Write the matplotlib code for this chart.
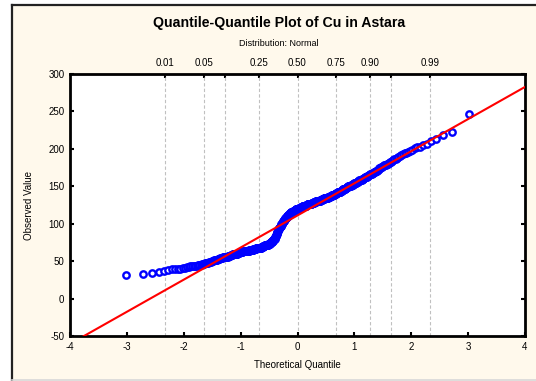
from statistics import NormalDist
import numpy as np
import matplotlib
matplotlib.use("Agg")
import matplotlib.pyplot as plt
from matplotlib.patches import Rectangle
from matplotlib.lines import Line2D

plt.rcParams['font.family'] = ['Liberation Sans', 'DejaVu Sans']
plt.rcParams['axes.unicode_minus'] = False

# Cu concentrations (frequency table: value -> number of samples)
cu_values = [31, 33, 34, 36, 37, 38, 39, 40, 41, 42, 43, 44, 45, 46, 47, 48, 49, 50, 51, 52,
             53, 54, 55, 56, 57, 58, 59, 60, 61, 62, 63, 64, 65, 66, 67, 68, 69, 70, 71, 72,
             73, 74, 75, 76, 77, 78, 79, 80, 81, 82, 83, 84, 85, 86, 87, 88, 89, 90, 91, 92,
             93, 94, 95, 96, 97, 98, 99, 100, 101, 102, 103, 104, 105, 106, 107, 108, 109, 110, 111, 112,
             113, 114, 115, 116, 117, 118, 119, 120, 121, 122, 123, 124, 125, 126, 127, 128, 129, 130, 131, 132,
             133, 134, 135, 136, 137, 138, 139, 140, 141, 142, 143, 144, 145, 146, 147, 148, 149, 150, 151, 152,
             153, 154, 155, 156, 157, 158, 159, 160, 161, 162, 163, 164, 165, 166, 167, 168, 169, 170, 171, 172,
             173, 174, 175, 176, 177, 178, 179, 180, 181, 182, 183, 184, 185, 186, 187, 188, 189, 190,
             192, 193, 194, 195, 196, 197, 199, 201, 202, 203, 205, 207, 210, 213, 218, 223, 247]
cu_counts = [1, 1, 1, 1, 1, 1, 2, 2, 2, 2, 2, 3, 3, 3, 2, 2, 3, 2, 3, 2,
             3, 4, 4, 4, 4, 4, 4, 5, 4, 7, 7, 8, 10, 7, 7, 7, 5, 5, 5, 5,
             5, 3, 3, 2, 2, 2, 2, 2, 1, 1, 1, 1, 1, 1, 1, 1, 1, 1, 1, 1,
             1, 2, 1, 2, 2, 1, 1, 2, 1, 2, 1, 2, 2, 2, 2, 2, 2, 3, 2, 3,
             2, 3, 2, 6, 5, 5, 5, 5, 6, 6, 6, 6, 5, 7, 7, 7, 7, 7, 7, 6,
             6, 6, 6, 6, 5, 4, 4, 4, 4, 4, 4, 3, 3, 3, 3, 3, 3, 4, 3, 4,
             3, 3, 2, 3, 2, 3, 2, 3, 2, 2, 2, 2, 2, 2, 2, 2, 2, 2, 1, 1,
             1, 1, 1, 2, 1, 2, 1, 2, 1, 1, 1, 1, 1, 1, 1, 1, 1, 1,
             1, 1, 1, 1, 1, 1, 1, 1, 1, 1, 1, 1, 1, 1, 1, 1, 1]

prob_levels = [0.01, 0.05, 0.10, 0.25, 0.50, 0.75, 0.90, 0.95, 0.99]
prob_labels = ['0.01', '0.05', '', '0.25', '0.50', '0.75', '0.90', '', '0.99']

observed = np.repeat(cu_values, cu_counts).astype(float)
n = len(observed)
nd = NormalDist()
theor = np.array([nd.inv_cdf((i - 0.375) / (n + 0.25)) for i in range(1, n + 1)])
slope, intercept = np.polyfit(theor, observed, 1)

fig = plt.figure(figsize=(5.36, 3.81), dpi=100)
fig.patch.set_facecolor('white')
# sunken panel frame
fig.add_artist(Rectangle((12 / 536, 0), 1, 375 / 381, transform=fig.transFigure,
                         facecolor='#fff9ec', edgecolor='none', zorder=-10))
fig.add_artist(Line2D([11.5 / 536, 11.5 / 536], [0.2 / 381, 376 / 381], transform=fig.transFigure,
                      color='#222222', lw=1.6, zorder=-9))
fig.add_artist(Line2D([11.5 / 536, 1], [376 / 381, 376 / 381], transform=fig.transFigure,
                      color='#222222', lw=1.6, zorder=-9))
fig.add_artist(Line2D([12 / 536, 1], [1.2 / 381, 1.2 / 381], transform=fig.transFigure,
                      color='#d8d8d8', lw=1.2, zorder=-9))

ax = fig.add_axes([70 / 536, 45 / 381, 455 / 536, 262 / 381])
ax.set_facecolor('white')

qx = [nd.inv_cdf(p) for p in prob_levels]
for q in qx:
    ax.axvline(q, color='#c0c0c0', lw=0.8, ls=(0, (3, 2)), zorder=1)

ax.plot(theor, observed, 'o', ms=4.6, mfc='white', mec='#0000ff', mew=1.7, zorder=3)
xl = np.array([-4, 4])
ax.plot(xl, intercept + slope * xl, color='#ff0000', lw=1.5, zorder=4)

ax.set_xlim(-4, 4)
ax.set_ylim(-50, 300)
ax.set_xticks(range(-4, 5))
ax.set_yticks(range(-50, 301, 50))
ax.tick_params(direction='in', length=3, width=1.5, labelsize=7, top=False, right=True, pad=4)
for s in ax.spines.values():
    s.set_linewidth(2)

top = ax.secondary_xaxis('top')
top.set_xticks(qx)
top.set_xticklabels(prob_labels)
top.tick_params(direction='in', length=3, width=1.5, labelsize=7, pad=4)

ax.set_xlabel('Theoretical Quantile', fontsize=7, labelpad=6)
ax.set_ylabel('Observed Value', fontsize=7, labelpad=10)

fig.text(279 / 536, 1 - 23 / 381, 'Quantile-Quantile Plot of Cu in Astara', ha='center', va='center',
         fontsize=10.2, fontweight='bold')
fig.text(279 / 536, 1 - 44 / 381, 'Distribution: Normal', ha='center', va='center', fontsize=6.5)

fig.savefig('out.png', dpi=100, facecolor=fig.get_facecolor())
